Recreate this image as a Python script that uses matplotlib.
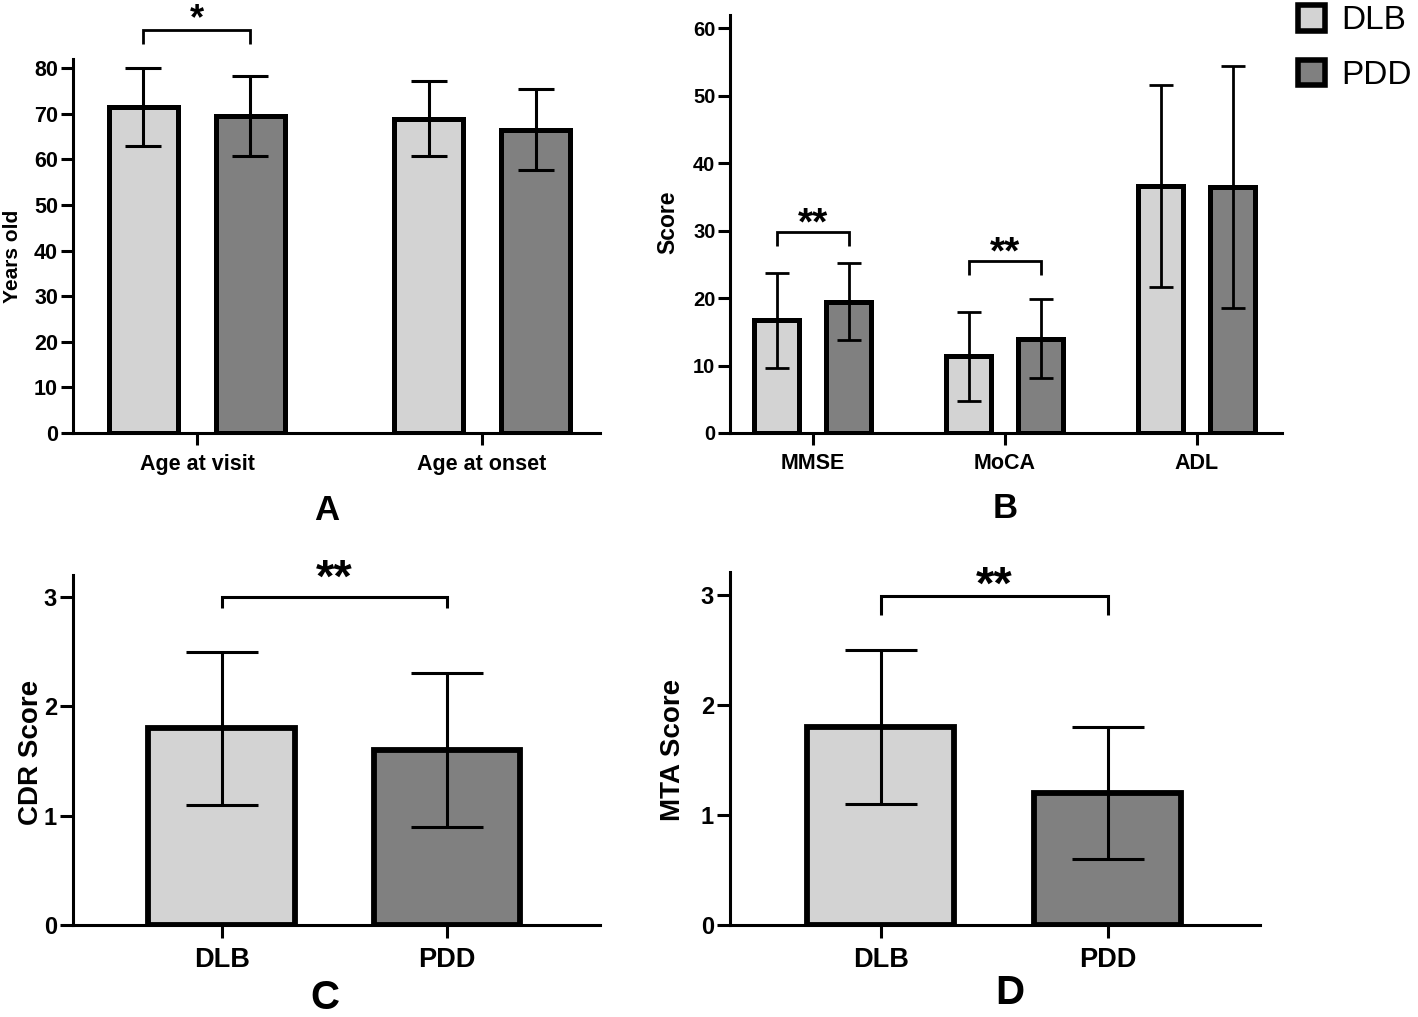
import matplotlib
matplotlib.use("Agg")
import matplotlib.pyplot as plt
from matplotlib.patches import Patch
from matplotlib import font_manager
import matplotlib.transforms as mtransforms
import numpy as np

# ---------------- data ----------------
groups = ["DLB", "PDD"]
colors = ["#d3d3d3", "#808080"]

a_categories = ["Age at visit", "Age at onset"]
a_dlb_mean = [71.5, 68.9]
a_dlb_sd = [8.5, 8.25]
a_pdd_mean = [69.5, 66.5]
a_pdd_sd = [8.8, 8.85]

b_categories = ["MMSE", "MoCA", "ADL"]
b_dlb_mean = [16.7, 11.4, 36.6]
b_dlb_sd = [7.1, 6.6, 15.0]
b_pdd_mean = [19.5, 14.0, 36.45]
b_pdd_sd = [5.7, 5.9, 17.95]

c_mean = [1.8, 1.6]
c_sd = [0.7, 0.7]

d_mean = [1.8, 1.2]
d_sd = [0.7, 0.6]

# significance annotations: (category index, bracket level, leg bottom, star level, label)
a_sig = [(0, 88.3, 85.3, 93.0, "*")]
b_sig = [(0, 29.8, 27.8, 32.7, "**"), (1, 25.5, 23.5, 28.3, "**")]
c_sig = (3.0, 2.9, 3.29, "**")
d_sig = (2.99, 2.82, 3.21, "**")

# ---------------- fonts ----------------
names = {f.name for f in font_manager.fontManager.ttflist}
REG = "Liberation Sans" if "Liberation Sans" in names else "DejaVu Sans"

W, H = 1418, 1017
fig = plt.figure(figsize=(W / 100, H / 100), dpi=100)


def ax_at(l, t, r, b):
    return fig.add_axes([l / W, 1 - b / H, (r - l) / W, (b - t) / H])


def style(ax, ticksize, xsize, ticklen, spine_lw=2.2):
    for s in ["top", "right"]:
        ax.spines[s].set_visible(False)
    for s in ["left", "bottom"]:
        ax.spines[s].set_linewidth(spine_lw)
    ax.tick_params(axis="both", direction="out", length=ticklen, width=spine_lw)
    ax.tick_params(axis="y", pad=2, labelsize=ticksize)
    ax.tick_params(axis="x", pad=6, labelsize=xsize)
    for lab in ax.get_yticklabels() + ax.get_xticklabels():
        lab.set_fontfamily(REG)
        lab.set_fontweight("bold")


def bracket(ax, x0, x1, ytop, yleg, ystar, label, lw, fs):
    ax.plot([x0, x0, x1, x1], [yleg, ytop, ytop, yleg], color="black",
            lw=lw, clip_on=False, solid_joinstyle="miter", solid_capstyle="butt")
    tr = mtransforms.offset_copy(ax.transData, fig=fig, x=0, y=-0.56 * fs,
                                 units="points")
    ax.text((x0 + x1) / 2, ystar, label, ha="center", va="baseline",
            fontsize=fs, fontweight="bold", family=REG, clip_on=False,
            transform=tr)


# ---------------- Panel A ----------------
axA = ax_at(73, 59, 600, 433)
xa = np.arange(len(a_categories))
off_a, w_a = 0.1877, 0.239
for i, (m, s) in enumerate([(a_dlb_mean, a_dlb_sd), (a_pdd_mean, a_pdd_sd)]):
    pos = xa + (2 * i - 1) * off_a
    axA.bar(pos, m, w_a, color=colors[i], edgecolor="black", linewidth=3.6, zorder=2)
    axA.errorbar(pos, m, yerr=s, fmt="none", ecolor="black", elinewidth=2.2,
                 capsize=13, capthick=2.2, zorder=3)
axA.set_xlim(-0.435, 1.414)
axA.set_ylim(0, 82)
axA.set_yticks(np.arange(0, 81, 10))
axA.set_xticks(xa)
axA.set_xticklabels(a_categories)
axA.set_ylabel("Years old", fontsize=15, fontweight="bold", family=REG)
axA.yaxis.set_label_coords(-0.097, 0.473)
style(axA, 15.5, 15.5, 8.8)
for ci, yt, yl, ys, lab in a_sig:
    bracket(axA, ci - off_a, ci + off_a, yt, yl, ys, lab, 2.0, 26)

# ---------------- Panel B ----------------
axB = ax_at(730, 15, 1282, 433)
xb = np.arange(len(b_categories))
off_b, w_b = 0.1875, 0.234
for i, (m, s) in enumerate([(b_dlb_mean, b_dlb_sd), (b_pdd_mean, b_pdd_sd)]):
    pos = xb + (2 * i - 1) * off_b
    axB.bar(pos, m, w_b, color=colors[i], edgecolor="black", linewidth=3.6, zorder=2)
    axB.errorbar(pos, m, yerr=s, fmt="none", ecolor="black", elinewidth=2.0,
                 capsize=8.3, capthick=2.0, zorder=3)
axB.set_xlim(-0.432, 2.443)
axB.set_ylim(0, 62)
axB.set_yticks(np.arange(0, 61, 10))
axB.set_xticks(xb)
axB.set_xticklabels(b_categories)
axB.set_ylabel("Score", fontsize=16.5, fontweight="bold", family=REG)
axB.yaxis.set_label_coords(-0.091, 0.505)
style(axB, 14.5, 15.5, 8.5)
for ci, yt, yl, ys, lab in b_sig:
    bracket(axB, ci - off_b, ci + off_b, yt, yl, ys, lab, 2.0, 28)

# ---------------- Panel C ----------------
axC = ax_at(73, 575, 600, 925)
xc = np.arange(len(groups))
axC.bar(xc, c_mean, 0.653, color=colors, edgecolor="black", linewidth=4.2, zorder=2)
axC.errorbar(xc, c_mean, yerr=c_sd, fmt="none", ecolor="black", elinewidth=2.2,
             capsize=26, capthick=2.2, zorder=3)
axC.set_xlim(-0.662, 1.68)
axC.set_ylim(0, 3.2)
axC.set_yticks(np.arange(0, 4, 1))
axC.set_xticks(xc)
axC.set_xticklabels(groups)
axC.set_ylabel("CDR Score", fontsize=20, fontweight="bold", family=REG)
axC.yaxis.set_label_coords(-0.055, 0.494)
style(axC, 17, 19.5, 9.5)
yt, yl, ys, lab = c_sig
bracket(axC, 0, 1, yt, yl, ys, lab, 2.2, 34)

# ---------------- Panel D ----------------
axD = ax_at(730, 572, 1260, 925)
xd = np.arange(len(groups))
axD.bar(xd, d_mean, 0.648, color=colors, edgecolor="black", linewidth=4.2, zorder=2)
axD.errorbar(xd, d_mean, yerr=d_sd, fmt="none", ecolor="black", elinewidth=2.2,
             capsize=26, capthick=2.2, zorder=3)
axD.set_xlim(-0.665, 1.67)
axD.set_ylim(0, 3.21)
axD.set_yticks(np.arange(0, 4, 1))
axD.set_xticks(xd)
axD.set_xticklabels(groups)
axD.set_ylabel("MTA Score", fontsize=20, fontweight="bold", family=REG)
axD.yaxis.set_label_coords(-0.083, 0.496)
style(axD, 17, 19.5, 9.5)
yt, yl, ys, lab = d_sig
bracket(axD, 0, 1, yt, yl, ys, lab, 2.2, 34)

# ---------------- panel letters ----------------
fig.text(327 / W, 1 - 510 / H, "A", ha="center", va="center", fontsize=25,
         fontweight="bold", family=REG)
fig.text(1005 / W, 1 - 508 / H, "B", ha="center", va="center", fontsize=25,
         fontweight="bold", family=REG)
fig.text(325 / W, 1 - 998 / H, "C", ha="center", va="center", fontsize=29,
         fontweight="bold", family=REG)
fig.text(1010 / W, 1 - 993 / H, "D", ha="center", va="center", fontsize=29,
         fontweight="bold", family=REG)

# ---------------- legend ----------------
handles = [Patch(facecolor=c, edgecolor="black", linewidth=4.0) for c in colors]
fig.legend(handles, groups, loc="upper left", bbox_to_anchor=(1298 / W, 1 - 5 / H),
           frameon=False, borderpad=0, borderaxespad=0, handlelength=0.8,
           handleheight=0.8, handletextpad=0.5, labelspacing=0.7,
           prop={"family": REG, "size": 24})

fig.savefig("out.png", dpi=100)
